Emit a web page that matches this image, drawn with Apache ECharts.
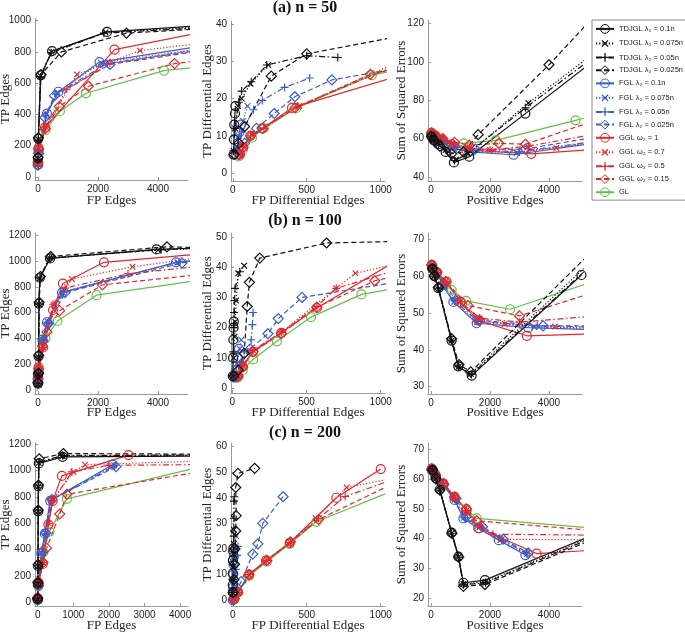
<!DOCTYPE html>
<html><head><meta charset="utf-8">
<script src="https://cdn.jsdelivr.net/npm/echarts@6/dist/echarts.min.js"></script>
<style>html,body{margin:0;padding:0;background:#fff}#c{width:685px;height:632px}</style>
</head><body><div id="c"></div>
<script>
// ---------- names ----------
const names = ['TDJGL λ₂ = 0.1n','TDJGL λ₂ = 0.075n','TDJGL λ₂ = 0.05n','TDJGL λ₂ = 0.025n',
 'FGL λ₂ = 0.1n','FGL λ₂ = 0.075n','FGL λ₂ = 0.05n','FGL λ₂ = 0.025n',
 'GGL ω₂ = 1','GGL ω₂ = 0.7','GGL ω₂ = 0.5','GGL ω₂ = 0.15','GL'];
const titles = ['(a) n = 50','(b) n = 100','(c) n = 200'];
const xNames = ['FP Edges','FP Differential Edges','Positive Edges'];
const yNames = ['TP Edges','TP Differential Edges','Sum of Squared Errors'];

// ---------- tick values ----------
const p11_xTicks=[0,2000,4000], p11_yTicks=[0,200,400,600,800,1000];
const p12_xTicks=[0,500,1000], p12_yTicks=[0,10,20,30,40];
const p13_xTicks=[0,2000,4000], p13_yTicks=[40,60,80,100,120];
const p21_xTicks=[0,2000,4000], p21_yTicks=[0,200,400,600,800,1000,1200];
const p22_xTicks=[0,500,1000], p22_yTicks=[0,10,20,30,40,50];
const p23_xTicks=[0,2000,4000], p23_yTicks=[30,40,50,60,70];
const p31_xTicks=[0,1000,2000,3000,4000], p31_yTicks=[0,200,400,600,800,1000,1200];
const p32_xTicks=[0,500,1000], p32_yTicks=[0,10,20,30,40,50,60];
const p33_xTicks=[0,2000,4000], p33_yTicks=[20,30,40,50,60,70];

// ---------- (a) n = 50 ----------
const p11_TDJGL=[
 [[0,120],[10,245],[90,650],[470,805],[2300,928],[5200,965]],
 [[0,115],[10,240],[85,645],[450,800],[2250,925],[5200,958]],
 [[0,110],[10,235],[80,640],[440,795],[2200,920],[5200,952]],
 [[0,125],[15,250],[100,655],[780,800],[2950,920],[5200,945]]];
const p11_FGL=[
 [[0,80],[20,170],[300,405],[680,545],[2050,735],[5200,830]],
 [[0,80],[20,165],[280,400],[650,540],[2100,730],[5200,815]],
 [[0,75],[20,160],[250,395],[600,530],[2300,725],[5200,805]],
 [[0,75],[20,150],[230,380],[550,520],[2400,720],[5200,800]]];
const p11_GGL=[
 [[0,95],[20,185],[230,315],[2550,815],[5200,915]],
 [[0,90],[20,180],[250,320],[1300,655],[3400,808],[5200,850]],
 [[0,90],[20,175],[260,320],[960,562],[2400,725],[5200,812]],
 [[0,90],[20,180],[250,310],[710,450],[1680,580],[4550,725],[5200,740]]];
const p11_GL=[[0,75],[20,165],[250,300],[730,420],[1600,535],[4200,680],[5200,700]];

const p12_TDJGL=[
 [[5,5],[8,9],[10,13],[15,16],[18,18]],
 [[5,6],[15,12],[35,18],[60,20],[120,24],[240,29]],
 [[5,6],[15,12],[40,19],[60,22],[125,24.5],[230,29],[500,31.5],[710,31]],
 [[10,5],[40,8],[80,12.5],[260,26],[500,32],[1100,36.5]]];
const p12_FGL=[
 [[25,5],[35,8],[45,11],[55,13]],
 [[25,6],[40,10],[70,14],[100,18]],
 [[30,6],[60,11],[140,17],[200,19.5],[350,23],[520,25.5]],
 [[40,5],[80,8],[160,12],[280,16],[420,20.5],[670,25],[1100,28]]];
const p12_GGL=[
 [[50,5],[70,7],[120,10],[200,12],[400,17.5],[1100,25.8]],
 [[50,5],[70,7.5],[130,10.5],[220,12.5],[450,18],[1100,29.5]],
 [[50,5],[70,7],[120,10],[210,12],[440,18],[1100,28.8]],
 [[45,5],[70,7],[120,10],[200,12],[420,17.5],[930,26.5],[1100,28]]];
const p12_GL=[[40,4.5],[70,6.5],[130,9.5],[210,12],[430,17.5],[940,26.3],[1100,27.5]];

const p13_TDJGL=[
 [[20,61],[100,59],[250,57],[500,53],[780,47.5],[1300,50.5],[3200,73],[5300,98]],
 [[20,61],[100,59],[250,57],[500,54],[850,49],[1250,52],[3300,78.5],[5300,102]],
 [[20,61],[100,59],[250,57],[500,54],[800,48.5],[1200,51.5],[3200,76],[5300,100]],
 [[20,61],[100,59],[300,56],[700,52],[1100,53],[1600,62],[4000,98.5],[5300,120]]];
const p13_FGL=[
 [[20,62],[150,60],[400,58],[750,55],[1300,53],[2800,51.5],[5300,57]],
 [[20,62],[150,60],[400,58],[750,55],[1350,53.5],[2900,52.5],[5300,57.5]],
 [[20,62],[150,60],[400,58],[750,55.5],[1400,54],[3000,53],[5300,58]],
 [[20,62],[150,60],[400,58.5],[800,56],[1500,54.5],[3200,54.5],[5300,60]]];
const p13_GGL=[
 [[20,63],[150,61.5],[350,59.5],[700,57],[1200,54],[3400,52],[5300,54]],
 [[20,63],[150,61.5],[350,60],[700,57.5],[1300,55],[2000,54],[4250,55],[5300,58]],
 [[20,63],[150,61.5],[350,60],[700,57.5],[1300,55],[2000,54],[3300,56],[5300,61.5]],
 [[20,63],[150,61.5],[400,60],[800,58],[1300,56.5],[2300,57.5],[3200,57],[5300,68]]];
const p13_GL=[[20,62],[150,60.5],[400,59],[1100,57.5],[2200,59],[4900,69.5],[5300,71]];

// ---------- (b) n = 100 ----------
const p21_TDJGL=[
 [[0,50],[10,125],[20,260],[30,670],[60,870],[400,1020],[3950,1090],[5200,1100]],
 [[0,45],[10,120],[20,255],[30,665],[60,865],[380,1025],[4000,1085],[5200,1095]],
 [[0,48],[12,122],[22,258],[32,668],[65,868],[390,1022],[4100,1088],[5200,1098]],
 [[0,55],[15,130],[25,270],[40,680],[80,880],[420,1035],[4300,1110],[5200,1105]]];
const p21_FGL=[
 [[0,65],[20,140],[150,390],[300,525],[800,755],[4600,990],[5200,1005]],
 [[0,65],[20,140],[150,390],[320,530],[820,760],[4650,990],[5200,1000]],
 [[0,60],[20,135],[160,385],[330,520],[850,760],[4700,992],[5200,1002]],
 [[0,60],[20,130],[170,380],[350,515],[900,755],[4800,985],[5200,1000]]];
const p21_GGL=[
 [[0,100],[20,175],[170,330],[500,620],[830,825],[2200,990],[5200,1050]],
 [[0,95],[20,170],[170,330],[520,660],[1130,860],[3150,955],[5200,1020]],
 [[0,95],[20,170],[170,330],[500,665],[900,790],[3000,900],[5200,955]],
 [[0,90],[20,165],[150,340],[300,450],[720,615],[2150,815],[5200,890]]];
const p21_GL=[[0,75],[20,150],[250,400],[650,535],[1950,735],[5200,845]];

const p22_TDJGL=[
 [[3,4],[5,10],[7,16],[8,20],[10,22]],
 [[5,4],[10,10],[15,17],[20,22],[25,29],[40,38],[80,40.5]],
 [[5,4],[8,12],[10,20],[12,25],[14,29],[18,33],[50,38.5]],
 [[10,4],[40,6],[80,11.5],[100,27],[115,35],[185,43],[635,48],[1100,48.5]]];
const p22_FGL=[
 [[15,3.5],[25,6],[35,10],[45,13]],
 [[15,4],[30,8],[50,13],[60,16]],
 [[20,4],[50,8],[100,12],[128,16],[135,21],[140,25]],
 [[30,4],[60,8],[120,13],[240,18],[310,23],[470,30],[1100,35]]];
const p22_GGL=[
 [[40,4],[70,7],[140,12],[330,18.3],[570,26.5],[1100,42]],
 [[40,4],[70,7.5],[140,12.5],[330,18.5],[700,33],[830,38],[1100,41]],
 [[40,4],[70,7.5],[140,12.5],[330,18.5],[570,27],[700,33],[1100,39]],
 [[40,4],[70,7],[140,12],[330,18],[570,26.8],[960,35.5],[1100,37]]];
const p22_GL=[[35,3.5],[70,6],[140,9.5],[300,15.5],[530,23.5],[870,31],[1100,33]];

const p23_TDJGL=[
 [[50,62],[113,60],[250,56.7],[700,42.5],[926,35.5],[1380,33],[5100,60.3]],
 [[50,62],[113,60],[250,56.5],[700,42.5],[930,35.3],[1350,33.5],[5300,63]],
 [[50,62],[113,60],[250,56.7],[700,42.6],[930,35.4],[1370,33.3],[5300,62]],
 [[50,62],[113,60],[250,57],[700,43],[950,36],[1350,34],[5300,65.5]]];
const p23_FGL=[
 [[30,63],[200,61],[400,57.5],[760,53],[1550,47.2],[3300,46],[5300,45.5]],
 [[30,63],[200,61],[420,57.5],[780,53],[1570,47.5],[3500,46.2],[5300,46]],
 [[30,63],[200,61],[430,57.7],[800,53.3],[1600,47.7],[3600,46.5],[5300,46.2]],
 [[30,63],[200,61.2],[450,58],[850,53.5],[1650,48],[3800,46.5],[5300,46.5]]];
const p23_GGL=[
 [[30,63],[200,61],[530,58.5],[1000,53],[1600,48],[3250,43.8],[5300,44.3]],
 [[30,63],[200,61],[500,58.5],[1000,53],[1650,48.5],[2500,47],[4200,46.3],[5300,45.5]],
 [[30,63],[200,61],[500,58.5],[1000,53],[1650,48.6],[3000,47.5],[5300,49]],
 [[30,63],[200,61],[500,58.5],[1260,52],[3000,49.2],[5300,55]]];
const p23_GL=[[30,63],[200,61],[700,56.2],[1190,53.3],[2680,51],[5300,58]];

// ---------- (c) n = 200 ----------
const p31_TDJGL=[
 [[0,20],[5,140],[10,275],[15,690],[20,880],[30,1055],[700,1105],[4300,1110]],
 [[0,20],[5,140],[10,275],[15,690],[20,880],[30,1060],[700,1110],[4300,1115]],
 [[0,25],[5,145],[10,280],[15,695],[20,885],[35,1065],[700,1115],[4300,1118]],
 [[0,30],[5,150],[10,285],[15,700],[25,890],[40,1090],[720,1130],[4300,1125]]];
const p31_FGL=[
 [[0,20],[20,130],[100,370],[200,520],[350,770],[2100,1045]],
 [[0,20],[20,130],[110,375],[210,525],[370,780],[2150,1040]],
 [[0,20],[20,125],[120,380],[220,520],[380,775],[2150,1035]],
 [[0,20],[20,125],[130,385],[230,525],[400,780],[2200,1030]]];
const p31_GGL=[
 [[0,30],[20,150],[140,290],[300,590],[420,770],[680,960],[2550,1118]],
 [[0,30],[20,150],[150,300],[300,600],[430,780],[1000,990],[1330,1045],[4300,1070]],
 [[0,30],[20,150],[150,300],[300,600],[420,770],[960,990],[2000,1040],[4300,1045]],
 [[0,30],[20,140],[150,300],[250,410],[620,670],[820,820],[4300,980]]];
const p31_GL=[[0,15],[20,120],[160,380],[330,535],[820,785],[4300,1010]];

const p32_TDJGL=[
 [[0,3],[0,6],[0,10.5],[1,15.5],[3,19],[5,20.2]],
 [[0,3],[2,8],[3,13],[5,18],[7,22],[8,27.5]],
 [[0,3],[2,8],[4,15],[5,20],[6,25],[8,32],[8,38.7],[10,40.4]],
 [[3,3],[8,8],[12,14],[15,20],[20,27],[23,33],[20,44],[35,49.5],[148,51.5]]];
const p32_FGL=[
 [[0,0],[2,5],[3,10],[5,14],[8,17]],
 [[3,0],[8,5],[12,10],[15,16],[18,20],[22,25]],
 [[3,0],[10,5],[20,12],[30,17.5],[35,21]],
 [[5,0],[20,3],[56,7.2],[135,18],[170,22],[203,30],[340,40.4]]];
const p32_GGL=[
 [[10,0.5],[35,3],[110,10],[225,15.5],[385,22.4],[700,40],[1000,51.2]],
 [[10,0.5],[35,3],[110,10],[230,15.5],[390,22.5],[560,32],[770,44],[1030,47]],
 [[10,0.5],[35,3],[110,10],[230,15.5],[390,22.5],[580,32],[760,40.5],[1030,46]],
 [[10,0.5],[35,3],[110,10],[230,15.5],[390,22.8],[580,31.5],[1030,44]]];
const p32_GL=[[10,0.5],[35,3.3],[110,9.5],[230,15],[385,22],[565,30.6],[1030,41.5]];

const p33_TDJGL=[
 [[60,63],[170,60.3],[300,56.5],[700,42],[930,34],[1100,25.2],[1830,26.1],[5300,40.5]],
 [[60,63],[170,60],[300,56.3],[700,41.8],[930,33.8],[1100,24.8],[1850,25.5],[5300,40]],
 [[60,63],[170,60],[300,56.3],[700,41.8],[930,33.8],[1100,24.5],[1850,25.2],[5300,39.6]],
 [[60,63],[170,60],[300,56.3],[710,41.8],[940,33.8],[1100,24],[1830,24.6],[5300,39]]];
const p33_FGL=[
 [[30,63],[150,61],[420,58],[800,53],[1100,46.8],[1600,43.5],[2300,39.5],[3200,34.5]],
 [[30,63],[150,61],[420,58],[800,53],[1120,47],[1650,43.8],[2350,39.5],[3250,34.8]],
 [[30,63],[150,61],[430,58],[820,53.3],[1150,47],[1700,43.8],[2400,39.6],[3250,35]],
 [[30,63],[150,61.2],[440,58.2],[850,53.5],[1180,47.3],[1750,44],[2450,39.8],[3300,35.2]]];
const p33_GGL=[
 [[30,63.5],[150,61.5],[420,58.5],[800,54],[1210,49.5],[1640,43.5],[3580,35],[5300,36]],
 [[30,63.5],[150,61.5],[420,58.5],[800,54],[1210,49.5],[1650,44],[2400,39.8],[5300,39.6]],
 [[30,63.5],[150,61.5],[420,58.5],[800,54],[1210,49.5],[1650,44.5],[2100,41.5],[5300,41.2]],
 [[30,63.5],[150,61.5],[420,58.5],[800,54],[1200,50],[1550,46],[5300,42.9]]];
const p33_GL=[[30,63],[150,61],[420,58.5],[800,54],[1200,50],[1550,46.8],[5300,43.7]];

// ---------- layout ----------
const plots = [
 {g:{l:35,t:18,r:188,b:180}, x:[-100,5000], y:[-20,1017], xt:p11_xTicks, yt:p11_yTicks, d:[p11_TDJGL,p11_FGL,p11_GGL,p11_GL]},
 {g:{l:231,t:21,r:385,b:181}, x:[-12,1029], y:[-2.1,40.8], xt:p12_xTicks, yt:p12_yTicks, d:[p12_TDJGL,p12_FGL,p12_GGL,p12_GL]},
 {g:{l:428,t:20,r:582,b:181}, x:[-100,5119], y:[37.8,121.9], xt:p13_xTicks, yt:p13_yTicks, d:[p13_TDJGL,p13_FGL,p13_GGL,p13_GL]},
 {g:{l:35,t:233,r:188,b:394}, x:[-100,5000], y:[-31,1217], xt:p21_xTicks, yt:p21_yTicks, d:[p21_TDJGL,p21_FGL,p21_GGL,p21_GL]},
 {g:{l:231,t:233,r:385,b:393}, x:[-9,1029], y:[-1.6,51.3], xt:p22_xTicks, yt:p22_yTicks, d:[p22_TDJGL,p22_FGL,p22_GGL,p22_GL]},
 {g:{l:428,t:233,r:582,b:394}, x:[-100,5119], y:[28,71.7], xt:p23_xTicks, yt:p23_yTicks, d:[p23_TDJGL,p23_FGL,p23_GGL,p23_GL]},
 {g:{l:35,t:443,r:188,b:606}, x:[-76,4222], y:[-30,1210], xt:p31_xTicks, yt:p31_yTicks, d:[p31_TDJGL,p31_FGL,p31_GGL,p31_GL]},
 {g:{l:231,t:443,r:385,b:606}, x:[-12,1029], y:[-2.3,61.4], xt:p32_xTicks, yt:p32_yTicks, d:[p32_TDJGL,p32_FGL,p32_GGL,p32_GL]},
 {g:{l:428,t:443,r:582,b:606}, x:[-100,5119], y:[17.4,72.1], xt:p33_xTicks, yt:p33_yTicks, d:[p33_TDJGL,p33_FGL,p33_GGL,p33_GL]}
];
const colors = {TDJGL:'#111111', FGL:'#3b5cc6', GGL:'#e2282c', GL:'#66bd4a'};
const PLUS = 'path://M4.3,0L5.7,0L5.7,4.3L10,4.3L10,5.7L5.7,5.7L5.7,10L4.3,10L4.3,5.7L0,5.7L0,4.3L4.3,4.3Z';
const styles = [
 {dash:'solid', sym:'circle'},
 {dash:[1.2,2], sym:'x'},
 {dash:[6,2.5,1.5,2.5], sym:'plus'},
 {dash:[5,3], sym:'diamond'}
];
const axisGray = '#9a9a9a';
const tickFont = {fontFamily:'Liberation Sans, Arial, sans-serif', fontSize:10, color:'#222'};
const plain = v => String(v);

function mkSeries(name, data, color, st, gi){
  const hollow = st.sym==='circle'||st.sym==='diamond';
  return {
    type:'line', name, data, xAxisIndex:gi, yAxisIndex:gi, clip:true,
    symbol: st.sym==='circle'?'circle':(st.sym==='diamond'?'diamond':PLUS),
    symbolRotate: st.sym==='x'?45:0,
    symbolSize: st.sym==='circle'?9:(st.sym==='diamond'?10:8),
    showSymbol:true, color,
    lineStyle:{color, width:1.2, type:st.dash},
    itemStyle: hollow?{color:'rgba(0,0,0,0)', borderColor:color, borderWidth:1.2}:{color, borderColor:color, borderWidth:0},
    emphasis:{disabled:true}, animation:false
  };
}

const grid=[], xAxis=[], yAxis=[], series=[], graphic=[];
plots.forEach((p,i)=>{
  grid.push({left:p.g.l, top:p.g.t, width:p.g.r-p.g.l, height:p.g.b-p.g.t, containLabel:false});
  xAxis.push({type:'value', gridIndex:i, min:p.x[0], max:p.x[1],
    axisLine:{onZero:false, lineStyle:{color:axisGray, width:1}},
    axisTick:{inside:true, length:3, lineStyle:{color:axisGray}, customValues:p.xt},
    axisLabel:Object.assign({margin:4, customValues:p.xt, formatter:plain}, tickFont),
    splitLine:{show:false}});
  yAxis.push({type:'value', gridIndex:i, min:p.y[0], max:p.y[1],
    axisLine:{show:true, onZero:false, lineStyle:{color:axisGray, width:1}},
    axisTick:{show:true, inside:true, length:3, lineStyle:{color:axisGray}, customValues:p.yt},
    axisLabel:Object.assign({margin:4, customValues:p.yt, formatter:plain}, tickFont),
    splitLine:{show:false}});
  const [T,F,G,L] = p.d;
  series.push(mkSeries(names[12], L, colors.GL, styles[0], i));
  F.forEach((d,k)=>series.push(mkSeries(names[4+k], d, colors.FGL, styles[k], i)));
  G.forEach((d,k)=>series.push(mkSeries(names[8+k], d, colors.GGL, styles[k], i)));
  T.forEach((d,k)=>series.push(mkSeries(names[k], d, colors.TDJGL, styles[k], i)));
});

// titles and axis names
const serif = 'Liberation Serif, Times New Roman, serif';
const titleY = [8, 221, 433];
const xNameY = [201, 413, 626];
const yNameX = [6, 208, 402];
titles.forEach((t,r)=>graphic.push({type:'text', x:305, y:titleY[r],
  style:{text:t, font:'bold 16px '+serif, fill:'#111', align:'center', verticalAlign:'middle'}}));
plots.forEach((p,i)=>{
  const r=Math.floor(i/3), c=i%3;
  graphic.push({type:'text', x:(p.g.l+p.g.r)/2, y:xNameY[r],
    style:{text:xNames[c], font:'13px '+serif, fill:'#222', align:'center', verticalAlign:'middle'}});
  graphic.push({type:'text', x:yNameX[c], y:(p.g.t+p.g.b)/2, rotation:Math.PI/2,
    style:{text:yNames[c], font:'13px '+serif, fill:'#222', align:'center', verticalAlign:'middle'}});
});

const legendData = names.map((n,k)=>{
  const hollow = (k===12) || (k%4===0) || (k%4===3);
  return hollow ? {name:n, itemStyle:{color:'rgba(0,0,0,0)', borderWidth:1}} : {name:n};
});

const chart = echarts.init(document.getElementById('c'), null, {renderer:'canvas'});
chart.setOption({
  animation:false,
  grid, xAxis, yAxis, series, graphic,
  legend:{data:legendData, orient:'vertical', left:592, top:20, itemWidth:18, itemHeight:11, itemGap:3.4,
    padding:[4,3,3,3], borderColor:'#8a8a8a', borderWidth:1, backgroundColor:'#fff',
    textStyle:{fontFamily:'Liberation Sans, Arial, sans-serif', fontSize:7.5, color:'#222'},
    selectedMode:false}
});
</script></body></html>
